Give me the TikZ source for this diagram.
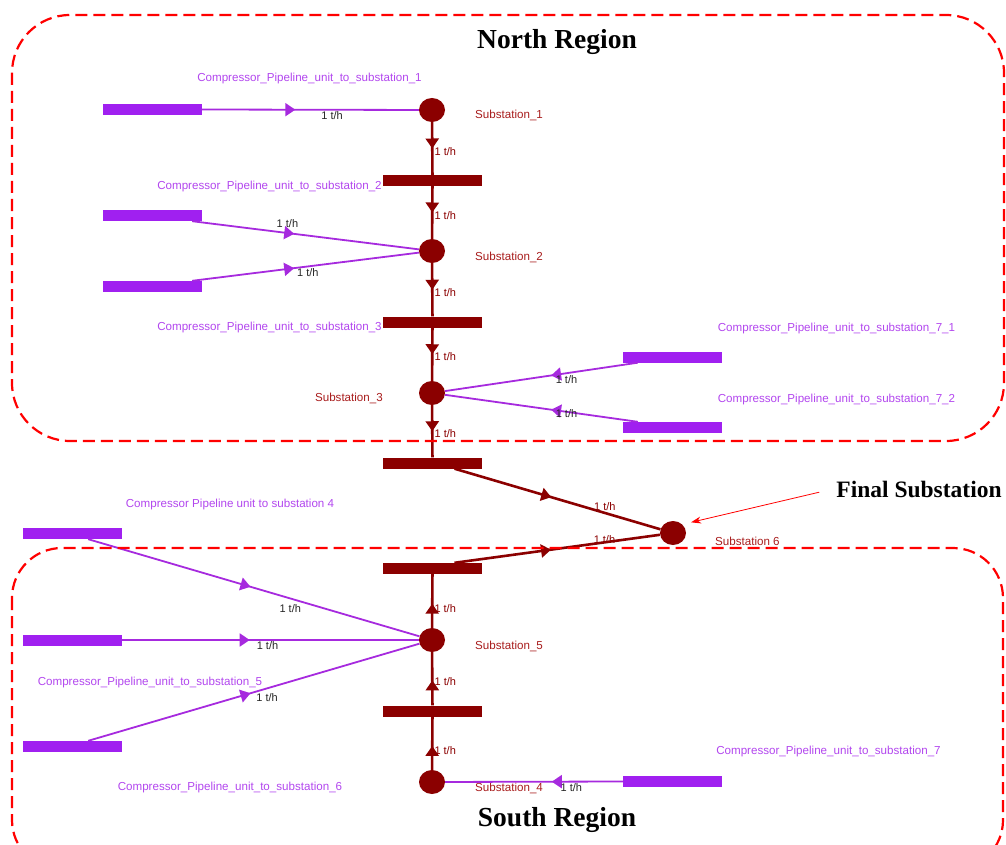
\documentclass[tikz,border=0pt]{standalone}
\usepackage{fontspec}
\setmainfont{Liberation Serif}
\setsansfont{Liberation Sans}
\usetikzlibrary{arrows.meta,decorations.markings,shapes.geometric}

\definecolor{gasred}{RGB}{139,0,0}
\definecolor{subred}{RGB}{168,28,28}
\definecolor{gaspurple}{RGB}{160,32,240}
\definecolor{pipepurple}{RGB}{166,42,222}
\definecolor{labelpurple}{RGB}{178,70,238}
\definecolor{regionred}{RGB}{255,0,0}

\begin{document}
\begin{tikzpicture}[x=1pt,y=-1pt,
	every node/.style={font=\sffamily\fontsize{11.6}{13}\selectfont},
	sub/.style={shape=ellipse,fill=gasred,minimum width=26pt,minimum height=24pt,inner sep=0pt},
	bar/.style={shape=rectangle,fill=gasred,minimum width=99pt,minimum height=11pt,inner sep=0pt},
	comp/.style={shape=rectangle,fill=gaspurple,minimum width=99pt,minimum height=11pt,inner sep=0pt},
	subtext/.style={text=subred,inner sep=0pt},
	comptext/.style={text=labelpurple,inner sep=0pt},
	flow/.style={font=\sffamily\fontsize{11}{12}\selectfont,inner sep=1pt},
	flowred/.style={flow,text=gasred},
	flowdark/.style={flow,text=black!85},
	trunk/.style={draw=gasred,line width=2.6pt},
	pipe/.style={draw=pipepurple,line width=1.8pt},
	midarrow/.style={postaction={decorate,decoration={markings,
		mark=at position #1 with {\arrow{Triangle[length=10pt,width=13pt]}}}}},
	region/.style={draw=regionred,line width=2.2pt,dash pattern=on 12pt off 6pt},
	regiontitle/.style={font=\rmfamily\bfseries\fontsize{27.5}{32}\selectfont},
	pointer/.style={draw=regionred,line width=0.8pt,-{Stealth[length=10pt,width=7pt]}}]

	\clip (0,0) rectangle (1006,845);

	% substations and junction bars
	\node[sub] (sub1) at (432,110) {};
	\node[sub] (sub2) at (432,251) {};
	\node[sub] (sub3) at (432,393) {};
	\node[sub] (sub5) at (432,640) {};
	\node[sub] (sub4) at (432,782) {};
	\node[sub] (sub6) at (673,533) {};
	\node[bar] (bar1) at (432.5,180.5) {};
	\node[bar] (bar2) at (432.5,322) {};
	\node[bar] (bar3) at (432.5,463) {};
	\node[bar] (bar4) at (432.5,568.5) {};
	\node[bar] (bar5) at (432.5,711) {};

	% compressor units
	\node[comp] (c1) at (152.5,109.5) {};
	\node[comp] (c2) at (152.5,215.5) {};
	\node[comp] (c3) at (152.5,286.5) {};
	\node[comp] (c71) at (672.5,357) {};
	\node[comp] (c72) at (672.5,427.5) {};
	\node[comp] (c4) at (72.5,533.5) {};
	\node[comp] (c5) at (72.5,640) {};
	\node[comp] (c6) at (72.5,746.5) {};
	\node[comp] (c7) at (672.5,781.5) {};

	% names
	\node[subtext,anchor=west] (l1) at (475,115) {Substation\_1};
	\node[subtext,anchor=west] (l2) at (475,257) {Substation\_2};
	\node[subtext,anchor=east] (l3) at (383,398) {Substation\_3};
	\node[subtext,anchor=west] (l5) at (475,646) {Substation\_5};
	\node[subtext,anchor=west] (l4) at (475,788) {Substation\_4};
	\node[subtext,anchor=west] (l6) at (715,541) {Substation 6};
	\node[comptext] (t1) at (309.5,79) {Compressor\_Pipeline\_unit\_to\_substation\_1};
	\node[comptext] (t2) at (269.5,187) {Compressor\_Pipeline\_unit\_to\_substation\_2};
	\node[comptext] (t3) at (269.5,327) {Compressor\_Pipeline\_unit\_to\_substation\_3};
	\node[comptext] (t71) at (836.5,328) {Compressor\_Pipeline\_unit\_to\_substation\_7\_1};
	\node[comptext] (t72) at (836.5,399) {Compressor\_Pipeline\_unit\_to\_substation\_7\_2};
	\node[comptext] (t4) at (230,504) {Compressor Pipeline unit to substation 4};
	\node[comptext] (t5) at (150,682) {Compressor\_Pipeline\_unit\_to\_substation\_5};
	\node[comptext] (t6) at (230,787) {Compressor\_Pipeline\_unit\_to\_substation\_6};
	\node[comptext] (t7) at (828.5,751) {Compressor\_Pipeline\_unit\_to\_substation\_7};

	% main trunk
	\draw[trunk,midarrow=.5] (sub1) -- node[flowred,pos=.55,anchor=west] {1 t/h} (bar1);
	\draw[trunk,midarrow=.5] (bar1) -- node[flowred,pos=.55,anchor=west] {1 t/h} (sub2);
	\draw[trunk,midarrow=.5] (sub2) -- node[flowred,pos=.55,anchor=west] {1 t/h} (bar2);
	\draw[trunk,midarrow=.5] (bar2) -- node[flowred,pos=.55,anchor=west] {1 t/h} (sub3);
	\draw[trunk,midarrow=.5] (sub3) -- node[flowred,pos=.55,anchor=west] {1 t/h} (bar3);
	\draw[trunk,midarrow=.45] (sub5) -- node[flowred,pos=.36,anchor=west] {1 t/h} (bar4);
	\draw[trunk,midarrow=.47] (bar5) -- node[flowred,pos=.45,anchor=west] {1 t/h} (sub5);
	\draw[trunk,midarrow=.45] (sub4) -- node[flowred,pos=.36,anchor=west] {1 t/h} (bar5);
	\draw[trunk,midarrow=.47] ([xshift=22pt]bar3.south) -- node[flowred,pos=.73,above] {1 t/h} (sub6);
	\draw[trunk,midarrow=.47] ([xshift=22pt]bar4.north) -- node[flowred,pos=.73,yshift=3pt] {1 t/h} (sub6);

	% compressor pipelines
	\draw[pipe,midarrow=.43] (c1.east) -- node[flowdark,pos=.6,below] {1 t/h} (sub1);
	\draw[pipe,midarrow=.45] ([xshift=-10pt]c2.south east) -- node[flowdark,pos=.42,above,yshift=4pt] {1 t/h} (sub2);
	\draw[pipe,midarrow=.45] ([xshift=-10pt]c3.north east) -- node[flowdark,pos=.51,below] {1 t/h} (sub2);
	\draw[pipe,midarrow=.45] ([xshift=15pt]c71.south west) -- node[flowdark,pos=.37,below] {1 t/h} (sub3);
	\draw[pipe,midarrow=.45] ([xshift=15pt]c72.north west) -- node[flowdark,pos=.37,below,yshift=4pt] {1 t/h} (sub3);
	\draw[pipe,midarrow=.4] (c7.west) -- node[flowdark,pos=.29,below] {1 t/h} (sub4);
	\draw[pipe,midarrow=.49] ([xshift=-34pt]c4.south east) -- node[flowdark,pos=.61,below,yshift=-4pt] {1 t/h} (sub5);
	\draw[pipe,midarrow=.43] (c5.east) -- node[flowdark,pos=.49,below] {1 t/h} (sub5);
	\draw[pipe,midarrow=.49] ([xshift=-34pt]c6.north east) -- node[flowdark,pos=.54,below,yshift=-3pt] {1 t/h} (sub5);

	% regions
	\draw[region,rounded corners=58pt] (12,15) rectangle (1004,441);
	\draw[region,rounded corners=50pt] (12,548) rectangle (1003,870);
	\node[regiontitle] (north) at (557,42) {North Region};
	\node[regiontitle] (south) at (557,820) {South Region};

	\node[font=\rmfamily\bfseries\fontsize{23.5}{28}\selectfont] (final) at (919,489) {Final Substation};
	\draw[pointer,shorten <=14pt,shorten >=9pt] (final.west) -- (sub6.north east);

\end{tikzpicture}
\end{document}
